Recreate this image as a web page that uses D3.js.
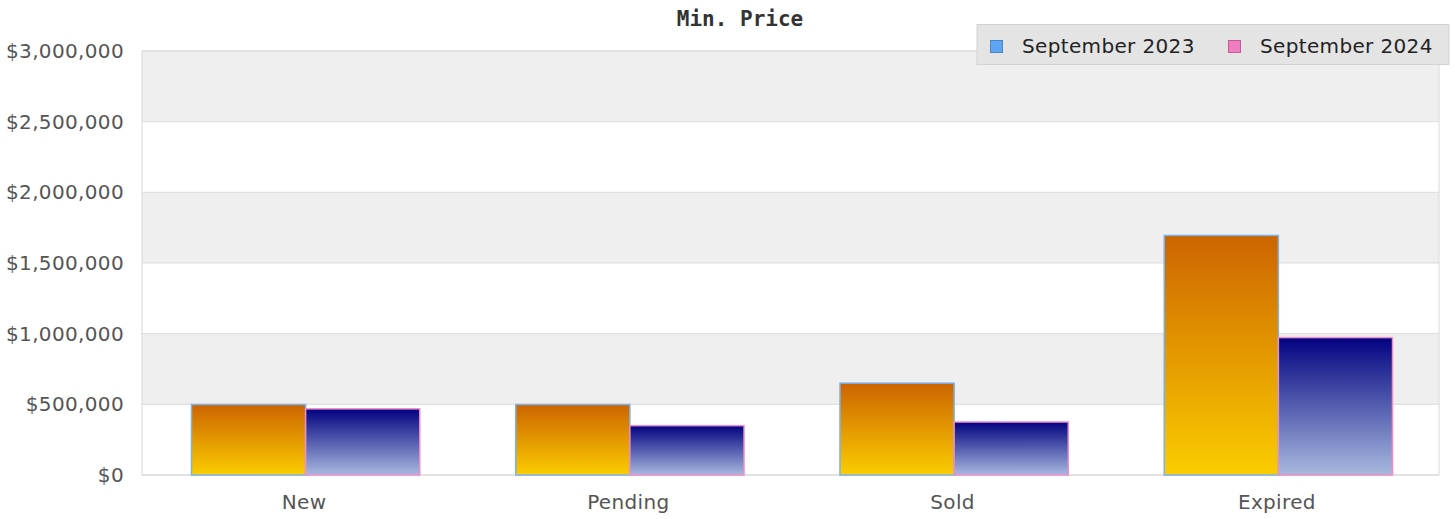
<!DOCTYPE html>
<html><head><meta charset="utf-8">
<script src="https://cdn.jsdelivr.net/npm/d3@7"></script>
<style>body{margin:0;background:#fff}svg{display:block}</style>
</head><body>
<svg id="c" width="1455" height="519"></svg>
<script>
const categories = ["New", "Pending", "Sold", "Expired"];
const seriesNames = ["September 2023", "September 2024"];
const sep2023 = [499000, 499000, 650000, 1695000];
const sep2024 = [468000, 349000, 375000, 972000];
const yTicks = [0, 500000, 1000000, 1500000, 2000000, 2500000, 3000000];
const chartTitle = "Min. Price";

const W = 1455, H = 519;
const m = {left: 142, right: 16, top: 51, bottom: 44};
const svg = d3.select("#c");
const defs = svg.append("defs");
const gradA = defs.append("linearGradient").attr("id","gA").attr("x1",0).attr("y1",0).attr("x2",0).attr("y2",1);
gradA.append("stop").attr("offset","0%").attr("stop-color","#cc6400");
gradA.append("stop").attr("offset","100%").attr("stop-color","#fbcd00");
const gradB = defs.append("linearGradient").attr("id","gB").attr("x1",0).attr("y1",0).attr("x2",0).attr("y2",1);
gradB.append("stop").attr("offset","0%").attr("stop-color","#020280");
gradB.append("stop").attr("offset","100%").attr("stop-color","#a9b9df");

const x0 = d3.scaleBand().domain(categories).range([m.left, W - m.right]).paddingInner(0.296).paddingOuter(0.148);
const x1 = d3.scaleBand().domain(seriesNames).range([0, x0.bandwidth()]);
const y = d3.scaleLinear().domain([0, 3000000]).range([H - m.bottom, m.top]);

const txt = sel => sel.attr("font-family", "DejaVu Sans").attr("font-size", 20).attr("letter-spacing", 0.35);

// alternating bands
const g = svg.append("g");
for (let i = 0; i < yTicks.length - 1; i++) {
  g.append("rect").attr("x", m.left).attr("width", W - m.right - m.left)
    .attr("y", y(yTicks[i+1])).attr("height", y(yTicks[i]) - y(yTicks[i+1]))
    .attr("fill", i % 2 === 0 ? "#ffffff" : "#efefef");
}
g.selectAll("line.grid").data(yTicks).enter().append("line")
  .attr("x1", m.left).attr("x2", W - m.right)
  .attr("y1", d => y(d)).attr("y2", d => y(d))
  .attr("stroke", "#dcdcdc").attr("stroke-width", 1);
g.append("rect").attr("x", m.left).attr("y", m.top).attr("width", W - m.right - m.left)
  .attr("height", y(0) - m.top).attr("fill", "none").attr("stroke", "#d8d8d8");

// y axis
const fmt = d => "$" + d3.format(",")(d);
const yAxis = svg.append("g").attr("transform", `translate(${m.left},0)`)
  .call(d3.axisLeft(y).tickValues(yTicks).tickFormat(fmt).tickSize(0).tickPadding(18));
yAxis.select(".domain").remove();
yAxis.selectAll("text").call(txt).attr("fill", "#555");

// x axis
const xAxis = svg.append("g").attr("transform", `translate(0,${y(0)})`)
  .call(d3.axisBottom(x0).tickSize(0).tickPadding(20));
xAxis.select(".domain").remove();
xAxis.selectAll("text").call(txt).attr("fill", "#555");

// bars
const rows = categories.map((c, i) => ({c, vals: [sep2023[i], sep2024[i]]}));
const grp = svg.append("g").selectAll("g").data(rows).enter().append("g")
  .attr("transform", d => `translate(${x0(d.c) + 1.5},0)`);
grp.selectAll("rect").data(d => d.vals.map((v, j) => ({v, j}))).enter().append("rect")
  .attr("x", d => x1(seriesNames[d.j]))
  .attr("width", x1.bandwidth())
  .attr("y", d => y(d.v))
  .attr("height", d => y(0) - y(d.v))
  .attr("fill", d => d.j === 0 ? "url(#gA)" : "url(#gB)")
  .attr("stroke", d => d.j === 0 ? "#7ab2ec" : "#f08cc8")
  .attr("stroke-width", 1.5);

// title
svg.append("text").attr("x", 740).attr("y", 26).attr("text-anchor", "middle")
  .attr("font-family", "DejaVu Sans Mono").attr("font-weight", "bold").attr("font-size", 21)
  .attr("fill", "#333").text(chartTitle);

// legend
const lg = svg.append("g");
lg.append("rect").attr("x", 977).attr("y", 24.5).attr("width", 472).attr("height", 40)
  .attr("fill", "#e4e4e4").attr("stroke", "#d2d2d2");
const legColors = [["#5ea6f2", "#4a84c4"], ["#f27cc2", "#c45a96"]];
const legX = [990, 1228];
seriesNames.forEach((s, i) => {
  lg.append("rect").attr("x", legX[i] + 0.5).attr("y", 40.5).attr("width", 12).attr("height", 12)
    .attr("fill", legColors[i][0]).attr("stroke", legColors[i][1]).attr("stroke-width", 1);
  lg.append("text").attr("x", legX[i] + 32).attr("y", 52.5)
    .call(txt).attr("fill", "#222").text(s);
});
</script>
</body></html>
